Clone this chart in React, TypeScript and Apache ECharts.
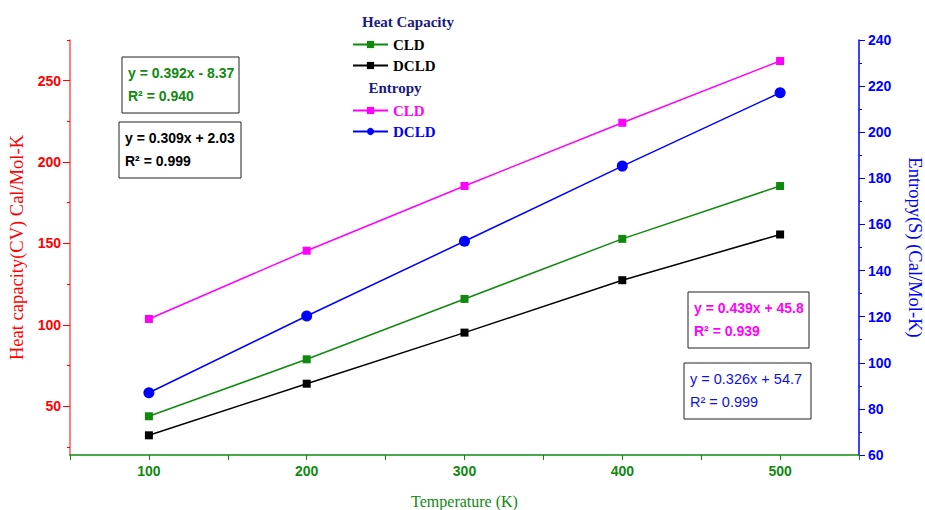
import React, { useEffect, useRef } from "react";
import * as echarts from "echarts";

const temperatures = [100, 200, 300, 400, 500];
const heatCLD = [43.8, 78.8, 115.9, 152.8, 185.3];
const heatDCLD = [32.1, 63.8, 95.2, 127.4, 155.5];
const entropyCLD = [119.0, 148.6, 176.7, 204.1, 230.9];
const entropyDCLD = [87.0, 120.3, 152.7, 185.3, 217.1];

const leftMajorTicks = [50, 100, 150, 200, 250];
const leftMinorTicks = [25, 75, 125, 175, 225, 275];

const fitLabels = [
  ["y = 0.392x - 8.37", "R² = 0.940"],
  ["y = 0.309x + 2.03", "R² = 0.999"],
  ["y = 0.439x + 45.8", "R² = 0.939"],
  ["y = 0.326x + 54.7", "R² = 0.999"],
];

const SANS = "'Liberation Sans', Arial, sans-serif";
const SERIF = "'Liberation Serif', 'Times New Roman', serif";

const RED = "#ff0000";
const GREEN = "#0f8a0f";
const BLUE = "#0000ff";
const MAGENTA = "#ff00ff";
const NAVY = "#1a1a80";

function box(x: number, y: number, w: number, h: number, lines: string[], color: string, bold: boolean) {
  const font = `${bold ? "bold " : ""}${bold ? 14 : 14.5}px ${SANS}`;
  return {
    type: "group",
    children: [
      {
        type: "rect",
        shape: { x, y, width: w, height: h },
        style: { fill: "#fff", stroke: "#222", lineWidth: 1 },
      },
      {
        type: "text",
        x: x + 6,
        y: y + 16,
        style: { text: lines[0], fill: color, font, verticalAlign: "middle" },
      },
      {
        type: "text",
        x: x + 6,
        y: y + 39,
        style: { text: lines[1], fill: color, font, verticalAlign: "middle" },
      },
    ],
  };
}

export default function App() {
  const ref = useRef<HTMLDivElement>(null);
  useEffect(() => {
    if (!ref.current) return;
    const chart = echarts.init(ref.current, null, { renderer: "svg" });
    const pair = (arr: number[]) => temperatures.map((t, i) => [t, arr[i]]);
    const nameMap: Record<string, string> = {
      "HC CLD": "CLD",
      "HC DCLD": "DCLD",
      "S CLD": "CLD",
      "S DCLD": "DCLD",
    };
    chart.setOption({
      animation: false,
      backgroundColor: "#fff",
      grid: { left: 70, right: 66, top: 40, bottom: 55, containLabel: false, outerBoundsMode: "none" },
      xAxis: {
        type: "value",
        min: 50,
        max: 550,
        interval: 50,
        name: "Temperature (K)",
        nameLocation: "middle",
        nameGap: 38,
        nameTextStyle: { color: GREEN, fontFamily: SERIF, fontSize: 16 },
        axisLine: { show: true, lineStyle: { color: GREEN, width: 1.5 } },
        axisTick: { show: true, length: 5, lineStyle: { color: GREEN } },
        axisLabel: {
          color: GREEN,
          fontWeight: "bold",
          fontFamily: SANS,
          fontSize: 14,
          margin: 9,
          formatter: (v: number) => (v % 100 === 0 ? String(v) : ""),
        },
        splitLine: { show: false },
      },
      yAxis: [
        {
          type: "value",
          position: "left",
          min: 20,
          max: 275,
          name: "Heat capacity(CV) Cal/Mol-K",
          nameLocation: "middle",
          nameGap: 42,
          nameTextStyle: { color: RED, fontFamily: SERIF, fontSize: 18.5 },
          axisLine: { show: true, lineStyle: { color: "#ff5555", width: 1.5 } },
          axisTick: { show: true, length: 7, customValues: leftMajorTicks, lineStyle: { color: RED } },
          axisLabel: {
            customValues: leftMajorTicks,
            color: RED,
            fontWeight: "bold",
            fontFamily: SANS,
            fontSize: 14,
            margin: 9,
          },
          splitLine: { show: false },
        },
        {
          type: "value",
          position: "left",
          min: 20,
          max: 275,
          axisLine: { show: false },
          axisTick: { show: true, length: 3, customValues: leftMinorTicks, lineStyle: { color: RED } },
          axisLabel: { show: false },
          splitLine: { show: false },
        },
        {
          type: "value",
          position: "right",
          min: 60,
          max: 240,
          interval: 20,
          name: "Entropy(S) (Cal/Mol-K)",
          nameLocation: "middle",
          nameGap: 46,
          nameRotate: -90,
          nameTextStyle: { color: BLUE, fontFamily: SERIF, fontSize: 18.5 },
          axisLine: { show: true, lineStyle: { color: BLUE, width: 1.5 } },
          axisTick: { show: true, length: 6, lineStyle: { color: BLUE } },
          minorTick: { show: true, splitNumber: 2, length: 3, lineStyle: { color: BLUE } },
          axisLabel: {
            color: BLUE,
            fontWeight: "bold",
            fontFamily: SANS,
            fontSize: 14,
            margin: 9,
          },
          splitLine: { show: false },
        },
      ],
      legend: [
        {
          orient: "vertical",
          left: 347,
          top: 32,
          itemWidth: 35,
          itemHeight: 9,
          itemGap: 6,
          data: ["HC CLD", "HC DCLD"],
          formatter: (n: string) => nameMap[n],
          textStyle: { color: "#000", fontFamily: SERIF, fontWeight: "bold", fontSize: 15 },
        },
        {
          orient: "vertical",
          left: 347,
          top: 98,
          itemWidth: 35,
          itemHeight: 9,
          itemGap: 6,
          data: [
            { name: "S CLD", textStyle: { color: MAGENTA } },
            { name: "S DCLD", textStyle: { color: BLUE } },
          ],
          formatter: (n: string) => nameMap[n],
          textStyle: { fontFamily: SERIF, fontWeight: "bold", fontSize: 15 },
        },
      ],
      graphic: [
        {
          type: "text",
          x: 408,
          y: 22,
          style: {
            text: "Heat Capacity",
            fill: NAVY,
            font: `bold 15px ${SERIF}`,
            align: "center",
            verticalAlign: "middle",
          },
        },
        {
          type: "text",
          x: 395,
          y: 88,
          style: {
            text: "Entropy",
            fill: NAVY,
            font: `bold 15px ${SERIF}`,
            align: "center",
            verticalAlign: "middle",
          },
        },
        box(122, 57, 117, 56, fitLabels[0], GREEN, true),
        box(119, 122, 122, 56, fitLabels[1], "#000", true),
        box(688, 292, 121, 56, fitLabels[2], MAGENTA, true),
        box(684, 363, 127, 56, fitLabels[3], "#1010e0", false),
      ],
      series: [
        {
          name: "HC CLD",
          type: "line",
          yAxisIndex: 0,
          data: pair(heatCLD),
          symbol: "rect",
          symbolSize: 8,
          itemStyle: { color: GREEN },
          lineStyle: { color: GREEN, width: 1.5 },
        },
        {
          name: "HC DCLD",
          type: "line",
          yAxisIndex: 0,
          data: pair(heatDCLD),
          symbol: "rect",
          symbolSize: 8,
          itemStyle: { color: "#000" },
          lineStyle: { color: "#000", width: 1.5 },
        },
        {
          name: "S CLD",
          type: "line",
          yAxisIndex: 2,
          data: pair(entropyCLD),
          symbol: "rect",
          symbolSize: 8,
          itemStyle: { color: MAGENTA },
          lineStyle: { color: MAGENTA, width: 1.5 },
        },
        {
          name: "S DCLD",
          type: "line",
          yAxisIndex: 2,
          data: pair(entropyDCLD),
          symbol: "circle",
          symbolSize: 11,
          itemStyle: { color: BLUE },
          lineStyle: { color: BLUE, width: 1.5 },
        },
      ],
    });
    return () => chart.dispose();
  }, []);
  return (
    <div
      ref={ref}
      style={{ position: "fixed", left: 0, top: 0, width: 925, height: 510, background: "#fff" }}
    />
  );
}
